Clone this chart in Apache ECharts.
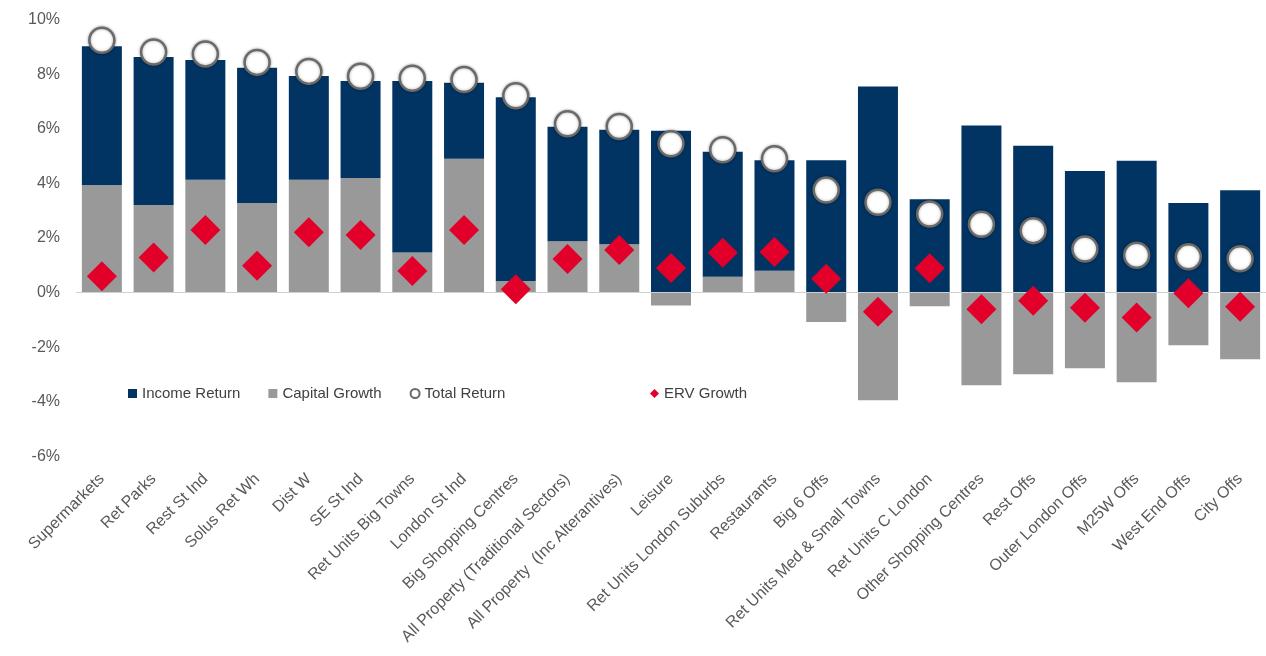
<!DOCTYPE html>
<html>
<head>
<meta charset="utf-8">
<script src="https://cdn.jsdelivr.net/npm/echarts@6/dist/echarts.min.js"></script>
<style>
html,body{margin:0;padding:0;background:#fff;}
#chart{width:1266px;height:656px;}
</style>
</head>
<body>
<div id="chart"></div>
<script>
const categories = ["Supermarkets","Ret Parks","Rest St Ind","Solus Ret Wh","Dist W","SE St Ind","Ret Units Big Towns","London St Ind","Big Shopping Centres","All Property (Traditional Sectors)","All Property  (Inc Alterantives)","Leisure","Ret Units London Suburbs","Restaurants","Big 6 Offs","Ret Units Med & Small Towns","Ret Units C London","Other Shopping Centres","Rest Offs","Outer London Offs","M25W Offs","West End Offs","City Offs"];
const capitalGrowth = [3.94,3.21,4.13,3.28,4.13,4.20,1.47,4.90,0.43,1.88,1.77,-0.47,0.58,0.80,-1.08,-3.94,-0.50,-3.39,-2.99,-2.77,-3.28,-1.93,-2.44];
const incomeReturn = [5.08,5.42,4.39,4.95,3.80,3.55,6.28,2.78,6.72,4.19,4.19,5.93,4.58,4.05,4.85,7.55,3.42,6.12,5.38,4.45,4.83,3.28,3.75];
const totalReturn = [9.24,8.81,8.74,8.43,8.10,7.92,7.85,7.80,7.21,6.18,6.08,5.45,5.23,4.90,3.76,3.31,2.88,2.50,2.27,1.60,1.37,1.31,1.24];
const ervGrowth = [0.60,1.29,2.29,0.98,2.21,2.11,0.79,2.29,0.12,1.23,1.56,0.90,1.46,1.49,0.51,-0.70,0.89,-0.61,-0.30,-0.55,-0.91,-0.02,-0.52];
const yTicks = {min:-6, max:10, interval:2};

const font = "Liberation Sans, Arial, sans-serif";
const chart = echarts.init(document.getElementById('chart'), null, {renderer:'canvas'});
chart.setOption({
  animation:false,
  backgroundColor:'#ffffff',
  grid:{left:76, top:19.5, width:1196, bottom:199.5, containLabel:false},
  legend:[{
    left:123, top:381, itemWidth:9, itemHeight:9, itemGap:28,
    textStyle:{fontFamily:font, fontSize:15, color:'#404040'},
    data:[{name:'Income Return', icon:'rect'},{name:'Capital Growth', icon:'rect'},{name:'Total Return', icon:'circle'}]
  },{
    left:645, top:381, itemWidth:9, itemHeight:9,
    textStyle:{fontFamily:font, fontSize:15, color:'#404040'},
    data:[{name:'ERV Growth', icon:'diamond'}]
  }],
  xAxis:{
    type:'category', data:categories,
    axisLine:{show:false}, axisTick:{show:false},
    axisLabel:{interval:0, rotate:45, margin:20, fontFamily:font, fontSize:16, color:'#595959'}
  },
  yAxis:{
    type:'value', min:yTicks.min, max:yTicks.max, interval:yTicks.interval,
    axisLine:{show:false}, axisTick:{show:false}, splitLine:{show:false},
    axisLabel:{formatter:'{value}%', margin:16, fontFamily:font, fontSize:16, color:'#595959'}
  },
  series:[
    {name:'Capital Growth', type:'bar', stack:'r', data:capitalGrowth, barWidth:40,
     itemStyle:{color:'#999999'},
     markLine:{silent:true, symbol:'none', label:{show:false}, lineStyle:{color:'#d0d0d0', type:'solid', width:1},
       data:[{yAxis:0}]}},
    {name:'Income Return', type:'bar', stack:'r', data:incomeReturn, barWidth:40,
     itemStyle:{color:'#023463'}},
    {name:'Total Return', type:'scatter', data:totalReturn, symbol:'circle', symbolSize:25, z:5,
     itemStyle:{color:'#ffffff', opacity:1, borderColor:'#6a6a6a', borderWidth:2.5, shadowColor:'rgba(0,0,0,0.35)', shadowBlur:3}},
    {name:'ERV Growth', type:'scatter', data:ervGrowth, symbol:'diamond', symbolSize:[30,30], z:6,
     itemStyle:{color:'#e2002a', opacity:1}}
  ]
});
</script>
</body>
</html>
